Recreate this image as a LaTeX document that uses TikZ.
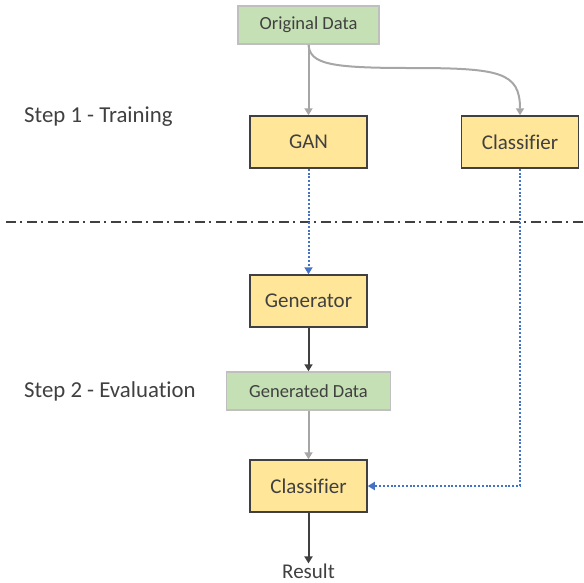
\documentclass[tikz,border=0pt]{standalone}
\usepackage{fontspec}
\setmainfont{Carlito}[Ligatures=NoCommon]
\usetikzlibrary{arrows.meta}
\definecolor{txt}{HTML}{404040}
\definecolor{grn}{HTML}{C5E0B4}
\definecolor{grnb}{HTML}{BFBFBF}
\definecolor{ylw}{HTML}{FFE699}
\definecolor{ylwb}{HTML}{404040}
\definecolor{garr}{HTML}{A6A6A6}
\definecolor{blu}{HTML}{4472C4}
\tikzset{
  x=1pt, y=-1pt,
  databox/.style={draw=grnb, line width=1.5pt, fill=grn, text=txt, minimum height=38pt, inner sep=0pt, font=\fontsize{18.5}{22}\selectfont},
  procbox/.style={draw=ylwb, line width=1.5pt, fill=ylw, text=txt, minimum width=117pt, minimum height=52pt, inner sep=0pt, font=\fontsize{21}{24}\selectfont},
  lbl/.style={text=txt, inner sep=0pt, font=\fontsize{21}{24}\selectfont},
  steplbl/.style={text=txt, inner sep=0pt, anchor=west, font=\fontsize{22.8}{26}\selectfont},
  tip/.style={-{Triangle[width=8pt,length=7pt]}},
  grayarr/.style={tip, draw=garr, line width=2pt},
  darkarr/.style={tip, draw=txt, line width=2pt},
  bluarr/.style={tip, draw=blu, line width=2pt, dash pattern=on 2pt off 1.8pt},
}
\begin{document}
\begin{tikzpicture}
\useasboundingbox (0,0) rectangle (584,582);
\node[databox, minimum width=141pt] (od) at (308.5,25) {Original Data};
\node[procbox] (gan) at (308.5,142) {GAN};
\node[procbox] (cl1) at (520,142) {Classifier};
\node[steplbl] (s1) at (24,117) {Step 1 - Training};
\coordinate (dl) at (6,222);
\coordinate (dr) at (584,222);
\draw[txt, line width=2pt, dash pattern=on 10pt off 4pt on 2pt off 5pt] (dl) -- (dr);
\node[procbox] (gen) at (308.5,301) {Generator};
\node[steplbl] (s2) at (24,391) {Step 2 - Evaluation};
\node[databox, minimum width=164pt] (gd) at (308.5,391) {Generated Data};
\node[procbox] (cl2) at (308.5,486) {Classifier};
\node[lbl] (res) at (308.5,571) {Result};

\draw[grayarr] (od.south) -- (gan.north);
\draw[grayarr] (od.south) .. controls (310,64) and (330,68) .. (410,68) .. controls (500,68) and (520,72) .. (cl1.north);
\draw[bluarr] (gan.south) -- (gen.north);
\draw[darkarr] (gen.south) -- (gd.north);
\draw[grayarr] (gd.south) -- (cl2.north);
\draw[bluarr] (cl1.south) |- (cl2.east);
\draw[darkarr] (cl2.south) -- (res.north);
\end{tikzpicture}
\end{document}
